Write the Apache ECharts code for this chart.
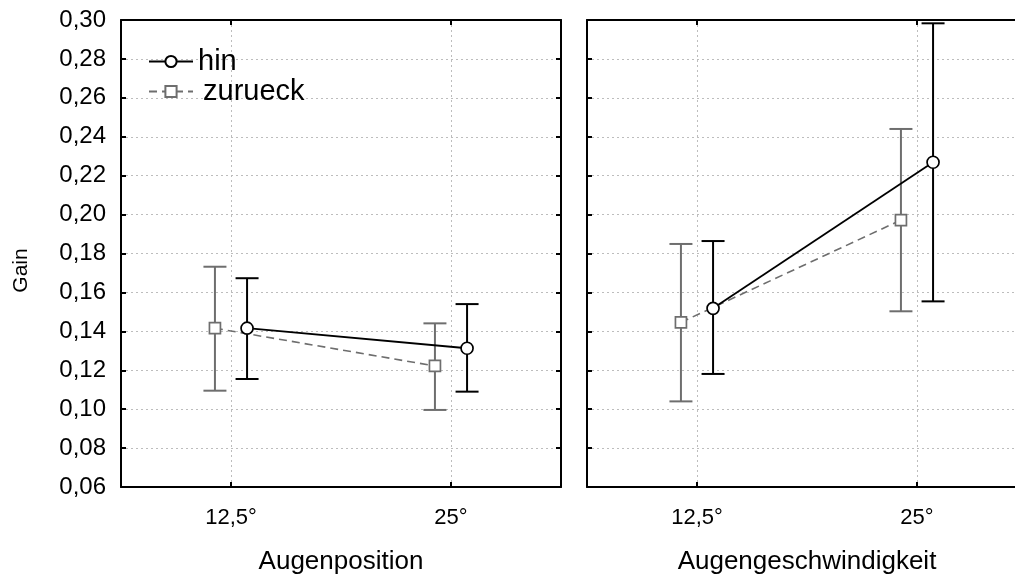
<!DOCTYPE html>
<html>
<head>
<meta charset="utf-8">
<script src="https://cdn.jsdelivr.net/npm/echarts@6/dist/echarts.min.js"></script>
<style>
  html, body { margin: 0; padding: 0; background: #fff; overflow: hidden; }
  #chart { width: 1040px; height: 578px; }
</style>
</head>
<body>
<div id="chart"></div>
<script>
// categories and tick labels
const categories = ['12,5°', '25°']

// Augenposition (left panel)
const hinPosMean = [0.1416, 0.1313]
const hinPosLow = [0.1155, 0.1090]
const hinPosHigh = [0.1673, 0.1540]
const zurPosMean = [0.1416, 0.1222]
const zurPosLow = [0.1095, 0.0996]
const zurPosHigh = [0.1732, 0.1441]

// Augengeschwindigkeit (right panel)
const hinVelMean = [0.1518, 0.2269]
const hinVelLow = [0.1181, 0.1554]
const hinVelHigh = [0.1864, 0.2983]
const zurVelMean = [0.1446, 0.1972]
const zurVelLow = [0.1040, 0.1503]
const zurVelHigh = [0.1849, 0.2440]

const FONT = 'Liberation Sans, Arial, sans-serif'
const BLACK = '#000'
const GREY = '#6e6e6e'
const SHIFT = 0.073 // horizontal dodge of the two groups
const CAP = 23

const chart = echarts.init(document.getElementById('chart'))

function pts (means, shift) {
  return means.map((v, i) => [i + 0.5 + shift, v])
}
function bars (low, high, shift) {
  return low.map((v, i) => [i + 0.5 + shift, v, high[i]])
}
function errorRender (color) {
  return function (params, api) {
    const x = api.value(0)
    const lo = api.coord([x, api.value(1)])
    const hi = api.coord([x, api.value(2)])
    const st = { stroke: color, lineWidth: 2 }
    return {
      type: 'group',
      children: [
        { type: 'line', shape: { x1: lo[0], y1: lo[1], x2: hi[0], y2: hi[1] }, style: st },
        { type: 'line', shape: { x1: lo[0] - CAP / 2, y1: lo[1], x2: lo[0] + CAP / 2, y2: lo[1] }, style: st },
        { type: 'line', shape: { x1: hi[0] - CAP / 2, y1: hi[1], x2: hi[0] + CAP / 2, y2: hi[1] }, style: st }
      ]
    }
  }
}

const gridLine = { show: true, lineStyle: { color: '#bdbdbd', type: [2, 3], width: 1 } }
const frame = { show: true, onZero: false, lineStyle: { color: BLACK, width: 2 } }
const inTick = { show: true, inside: true, length: 5, lineStyle: { color: BLACK, width: 2 } }
const tickVals = categories.map((c, i) => i + 0.5)

function xAxes (gridIndex, name) {
  return [
    {
      type: 'value', gridIndex, position: 'bottom', min: 0, max: 2,
      name, nameLocation: 'middle', nameGap: 62,
      nameTextStyle: { fontFamily: FONT, fontSize: 26, color: BLACK },
      axisLine: frame,
      axisTick: Object.assign({ customValues: tickVals }, inTick),
      axisLabel: {
        customValues: tickVals, margin: 20, fontFamily: FONT, fontSize: 22, color: BLACK,
        formatter: v => categories[Math.round(v - 0.5)]
      },
      splitLine: gridLine
    },
    {
      type: 'value', gridIndex, position: 'top', min: 0, max: 2,
      axisLine: frame,
      axisTick: Object.assign({ customValues: tickVals }, inTick),
      axisLabel: { show: false },
      splitLine: { show: false }
    }
  ]
}
function yAxes (gridIndex, withLabels) {
  return [
    {
      type: 'value', gridIndex, position: 'left', min: 0.06, max: 0.30, interval: 0.02,
      name: withLabels ? 'Gain' : '', nameLocation: 'middle', nameGap: 89,
      nameTextStyle: { fontFamily: FONT, fontSize: 21, color: BLACK, padding: [0, 34, 0, 0] },
      axisLine: frame,
      axisTick: inTick,
      axisLabel: {
        show: withLabels, margin: 15, fontFamily: FONT, fontSize: 24, color: BLACK,
        formatter: v => v.toFixed(2).replace('.', ',')
      },
      splitLine: gridLine
    },
    {
      type: 'value', gridIndex, position: 'right', min: 0.06, max: 0.30, interval: 0.02,
      axisLine: frame,
      axisTick: inTick,
      axisLabel: { show: false },
      splitLine: { show: false }
    }
  ]
}

function lineSeries (name, data, xAxisIndex, yAxisIndex) {
  const hin = name === 'hin'
  return {
    name, type: 'line', xAxisIndex, yAxisIndex, data, z: 5,
    symbol: hin ? 'circle' : 'rect',
    symbolSize: hin ? 12 : 11,
    itemStyle: { color: '#fff', borderColor: hin ? BLACK : GREY, borderWidth: 1.7 },
    lineStyle: { color: hin ? BLACK : GREY, width: hin ? 1.8 : 1.6, type: hin ? 'solid' : [8, 5] },
    emphasis: { disabled: true },
    animation: false
  }
}
function barSeries (data, color, xAxisIndex, yAxisIndex) {
  return {
    type: 'custom', xAxisIndex, yAxisIndex, data, z: 2,
    renderItem: errorRender(color),
    encode: { x: 0, y: [1, 2] },
    animation: false
  }
}

const option = {
  animation: false,
  grid: [
    { left: 121, top: 20, width: 440, height: 467, outerBoundsMode: 'none' },
    { left: 587, top: 20, width: 440, height: 467, outerBoundsMode: 'none' }
  ],
  legend: {
    data: ['hin', { name: 'zurueck', textStyle: { padding: [0, 0, 0, 5] } }],
    orient: 'vertical',
    left: 143,
    top: 42,
    itemWidth: 44,
    itemHeight: 14,
    itemGap: 1,
    textStyle: { fontFamily: FONT, fontSize: 29, color: BLACK },
    selectedMode: false
  },
  xAxis: xAxes(0, 'Augenposition').concat(xAxes(1, 'Augengeschwindigkeit')),
  yAxis: yAxes(0, true).concat(yAxes(1, false)),
  series: [
    barSeries(bars(zurPosLow, zurPosHigh, -SHIFT), GREY, 0, 0),
    barSeries(bars(hinPosLow, hinPosHigh, SHIFT), BLACK, 0, 0),
    lineSeries('zurueck', pts(zurPosMean, -SHIFT), 0, 0),
    lineSeries('hin', pts(hinPosMean, SHIFT), 0, 0),
    barSeries(bars(zurVelLow, zurVelHigh, -SHIFT), GREY, 2, 2),
    barSeries(bars(hinVelLow, hinVelHigh, SHIFT), BLACK, 2, 2),
    lineSeries('zurueck', pts(zurVelMean, -SHIFT), 2, 2),
    lineSeries('hin', pts(hinVelMean, SHIFT), 2, 2)
  ]
}
chart.setOption(option)
</script>
</body>
</html>
